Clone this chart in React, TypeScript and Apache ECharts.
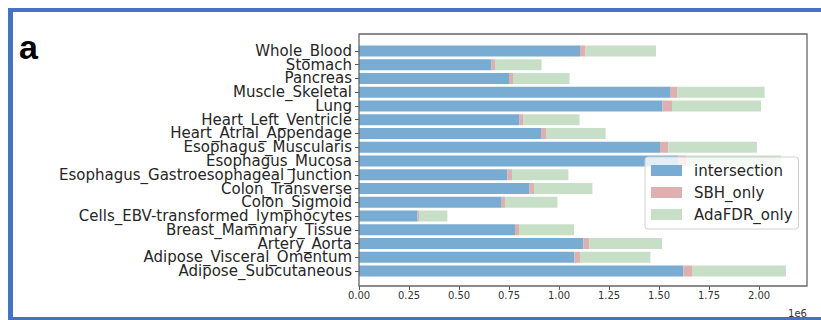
import React, { useEffect, useRef } from "react";
import * as echarts from "echarts";

const categories = [
  "Whole_Blood",
  "Stomach",
  "Pancreas",
  "Muscle_Skeletal",
  "Lung",
  "Heart_Left_Ventricle",
  "Heart_Atrial_Appendage",
  "Esophagus_Muscularis",
  "Esophagus_Mucosa",
  "Esophagus_Gastroesophageal_Junction",
  "Colon_Transverse",
  "Colon_Sigmoid",
  "Cells_EBV-transformed_lymphocytes",
  "Breast_Mammary_Tissue",
  "Artery_Aorta",
  "Adipose_Visceral_Omentum",
  "Adipose_Subcutaneous",
];

const intersection = [
  1105000, 663000, 750000, 1555000, 1518000, 803000, 910000, 1505000, 1597000,
  742000, 853000, 710000, 293000, 780000, 1122000, 1077000, 1622000,
];
const sbhOnly = [
  28000, 17000, 20000, 38000, 47000, 20000, 25000, 42000, 41000, 23000, 22000,
  20000, 7000, 20000, 30000, 28000, 43000,
];
const adaFdrOnly = [
  352000, 233000, 283000, 435000, 445000, 280000, 298000, 443000, 472000,
  282000, 292000, 262000, 142000, 275000, 363000, 352000, 470000,
];

const xTicks = [0, 250000, 500000, 750000, 1000000, 1250000, 1500000, 1750000, 2000000];
const xMax = 2240000;

const FONT = "DejaVu Sans";

export default function App() {
  const ref = useRef<HTMLDivElement>(null);
  useEffect(() => {
    if (!ref.current) return;
    const chart = echarts.init(ref.current, null, { renderer: "svg" });
    const frameBlue = "#4472c4";
    chart.setOption({
      animation: false,
      backgroundColor: "#ffffff",
      grid: { left: 359, right: 14, top: 44.1, bottom: 42.1, containLabel: false },
      xAxis: {
        type: "value",
        min: 0,
        max: xMax,
        offset: 8,
        axisLine: { show: false },
        splitLine: { show: false },
        axisTick: {
          show: true,
          length: 4,
          lineStyle: { color: "#555", width: 1 },
          customValues: xTicks,
        },
        axisLabel: {
          margin: 5,
          fontFamily: FONT,
          fontSize: 10,
          color: "#333",
          customValues: xTicks,
          formatter: (v: number) => (v / 1e6).toFixed(2),
        },
      },
      yAxis: {
        type: "category",
        data: categories,
        inverse: true,
        axisLine: { show: false },
        axisTick: {
          show: true,
          alignWithLabel: true,
          length: 4,
          lineStyle: { color: "#555", width: 1 },
        },
        axisLabel: {
          margin: 7,
          fontFamily: FONT,
          fontSize: 15,
          lineHeight: 13,
          color: "#262626",
          interval: 0,
        },
      },
      legend: {
        orient: "vertical",
        left: 645,
        top: 157,
        icon: "rect",
        itemWidth: 31,
        itemHeight: 11,
        itemGap: 5,
        padding: [5, 6, 6, 6],
        backgroundColor: "rgba(255,255,255,0.8)",
        borderColor: "#d0d0d0",
        borderWidth: 1,
        borderRadius: 3,
        textStyle: {
          fontFamily: FONT,
          fontSize: 15,
          lineHeight: 17,
          color: "#262626",
          padding: [0, 0, 0, 7],
        },
        data: ["intersection", "SBH_only", "AdaFDR_only"],
      },
      series: [
        {
          name: "intersection",
          type: "bar",
          stack: "total",
          barWidth: 11,
          data: intersection,
          itemStyle: { color: "#79acd2" },
        },
        {
          name: "SBH_only",
          type: "bar",
          stack: "total",
          barWidth: 11,
          data: sbhOnly,
          itemStyle: { color: "#dfb0b0" },
        },
        {
          name: "AdaFDR_only",
          type: "bar",
          stack: "total",
          barWidth: 11,
          data: adaFdrOnly,
          itemStyle: { color: "#c7dfc7" },
        },
      ],
      graphic: [
        {
          type: "rect",
          z: 100,
          shape: { x: 359, y: 34, width: 448, height: 252 },
          style: { fill: "none", stroke: "#666", lineWidth: 1.3 },
        },
        {
          type: "rect",
          z: 100,
          shape: { x: 8, y: 8, width: 813, height: 4 },
          style: { fill: frameBlue },
        },
        {
          type: "rect",
          z: 100,
          shape: { x: 8, y: 8, width: 5, height: 312 },
          style: { fill: frameBlue },
        },
        {
          type: "rect",
          z: 100,
          shape: { x: 8, y: 317, width: 813, height: 3 },
          style: { fill: frameBlue },
        },
        {
          type: "text",
          z: 100,
          x: 19,
          y: 47,
          style: {
            text: "a",
            fontFamily: "Liberation Sans",
            fontWeight: "bold",
            fontSize: 34,
            fill: "#000",
            verticalAlign: "middle",
            align: "left",
          },
        },
        {
          type: "text",
          z: 100,
          x: 807,
          y: 313,
          style: {
            text: "1e6",
            fontFamily: FONT,
            fontSize: 10,
            fill: "#333",
            verticalAlign: "middle",
            align: "right",
          },
        },
      ],
    });
    return () => chart.dispose();
  }, []);
  return (
    <div
      ref={ref}
      style={{ position: "fixed", left: 0, top: 0, width: 821, height: 320 }}
    />
  );
}
